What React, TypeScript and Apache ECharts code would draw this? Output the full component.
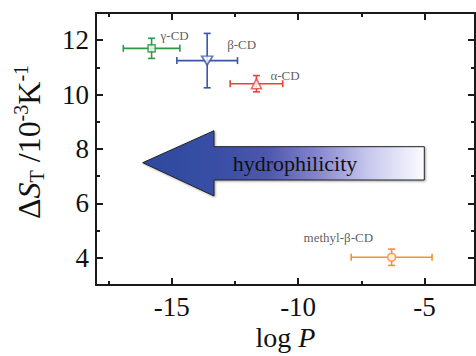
import React, { useEffect, useRef } from "react";
import * as echarts from "echarts";

const compounds = ["γ-CD", "β-CD", "α-CD", "methyl-β-CD"];
const logP = [-15.8, -13.6, -11.65, -6.3];
const deltaST = [11.7, 11.25, 10.4, 4.02];
const logPErr = [1.12, 1.2, 1.04, 1.6];
const deltaSTErr = [0.37, 1.0, 0.3, 0.3];

const xTickLabels = [-15, -10, -5];
const xMajorTicks = [-15, -10, -5];
const xMinorTicks = [-17.5, -12.5, -7.5];
const yTickLabels = [4, 6, 8, 10, 12];
const yMajorTicks = [4, 6, 8, 10, 12];
const yMinorTicks = [5, 7, 9, 11];

const SERIF = "'Liberation Serif', 'Times New Roman', serif";

export default function App() {
  const ref = useRef<HTMLDivElement>(null);
  useEffect(() => {
    if (!ref.current) return;
    const chart = echarts.init(ref.current, null, { renderer: "svg" });
    const colors = ["#2a9a45", "#3a56a8", "#e8433a", "#f5902e"];
    const symbols = ["rect", "path://M0,0L12,0L6,9Z", "triangle", "circle"];
    const symbolSizes: any[] = [7, [11, 9], [10, 10], 8];
    const labelOffsets = [
      [9, -13],
      [20, -16],
      [14, -8],
      [-88, -20],
    ];
    const axisColor = "#1a1a1a";
    const X_RANGE = { min: -18, max: -3 };
    const Y_RANGE = { min: 3, max: 13 };

    const tickAxis = (range: any, pos: string, values: number[], len: number) => ({
      type: "value",
      ...range,
      position: pos,
      gridIndex: 0,
      axisLine: { show: false, onZero: false },
      axisTick: { show: true, inside: true, length: len, customValues: values, lineStyle: { color: axisColor, width: 2 } },
      axisLabel: { show: false },
      splitLine: { show: false },
    });

    const xMain: any = {
      type: "value",
      ...X_RANGE,
      position: "bottom",
      gridIndex: 0,
      axisLine: { show: true, onZero: false, lineStyle: { color: axisColor, width: 2 } },
      axisTick: { show: false },
      axisLabel: { show: false },
      splitLine: { show: false },
      name: "{a|log }{i|P}",
      nameLocation: "middle",
      nameGap: 38,
      nameTextStyle: {
        fontFamily: SERIF,
        fontSize: 28,
        color: "#111",
        verticalAlign: "top",
        rich: {
          a: { fontFamily: SERIF, fontSize: 28, color: "#111" },
          i: { fontFamily: SERIF, fontSize: 28, fontStyle: "italic", color: "#111" },
        },
      },
    };
    const xTop: any = {
      type: "value",
      ...X_RANGE,
      position: "top",
      gridIndex: 0,
      axisLine: { show: true, onZero: false, lineStyle: { color: axisColor, width: 2 } },
      axisTick: { show: false },
      axisLabel: { show: false },
      splitLine: { show: false },
    };

    const yMain: any = {
      type: "value",
      ...Y_RANGE,
      position: "left",
      gridIndex: 0,
      axisLine: { show: true, onZero: false, lineStyle: { color: axisColor, width: 2 } },
      axisTick: { show: false },
      axisLabel: { show: false },
      splitLine: { show: false },
      name: "{sp|}{a|Δ}{i|S}{sub|T}{a| /10}{sup|-3}{a|K}{sup|-1}",
      nameLocation: "middle",
      nameRotate: 90,
      nameGap: 49,
      nameTextStyle: {
        fontFamily: SERIF,
        fontSize: 32,
        color: "#111",
        rich: {
          a: { fontFamily: SERIF, fontSize: 32, color: "#111", lineHeight: 36 },
          i: { fontFamily: SERIF, fontSize: 32, fontStyle: "italic", color: "#111", lineHeight: 36 },
          sub: { fontFamily: SERIF, fontSize: 20, color: "#111", verticalAlign: "bottom", lineHeight: 36 },
          sup: { fontFamily: SERIF, fontSize: 20, color: "#111", verticalAlign: "top", lineHeight: 36 },
          sp: { width: 14, lineHeight: 36 },
        },
      },
    };
    const yRight: any = {
      type: "value",
      ...Y_RANGE,
      position: "right",
      gridIndex: 0,
      axisLine: { show: true, onZero: false, lineStyle: { color: axisColor, width: 2 } },
      axisTick: { show: false },
      axisLabel: { show: false },
      splitLine: { show: false },
    };

    const errData = logP.map((x, i) => [x, deltaST[i], logPErr[i], deltaSTErr[i]]);

    const tickLabelText = (x: number, y: number, text: string, align: string) => ({
      type: "text",
      x,
      y,
      style: {
        text,
        fontFamily: SERIF,
        fontSize: 27,
        fill: "#111",
        align,
        verticalAlign: "middle",
      },
    });

    const option: any = {
      animation: false,
      backgroundColor: "#ffffff",
      textStyle: { fontFamily: SERIF },
      grid: { left: 96, right: 1, top: 13, bottom: 62, containLabel: false },
      xAxis: [
        xMain,
        xTop,
        tickAxis(X_RANGE, "bottom", xMajorTicks, 7),
        tickAxis(X_RANGE, "bottom", xMinorTicks, 4),
        tickAxis(X_RANGE, "top", xMajorTicks, 7),
        tickAxis(X_RANGE, "top", xMinorTicks, 4),
      ],
      yAxis: [
        yMain,
        yRight,
        tickAxis(Y_RANGE, "left", yMajorTicks, 7),
        tickAxis(Y_RANGE, "left", yMinorTicks, 4),
        tickAxis(Y_RANGE, "right", yMajorTicks, 7),
        tickAxis(Y_RANGE, "right", yMinorTicks, 4),
      ],
      series: [
        {
          type: "custom",
          name: "x tick labels",
          xAxisIndex: 0,
          yAxisIndex: 0,
          clip: false,
          silent: true,
          data: xTickLabels.map((v) => [v, Y_RANGE.min]),
          renderItem: (params: any, api: any) => {
            const p = api.coord([api.value(0), api.value(1)]);
            return tickLabelText(p[0], p[1] + 22, String(api.value(0)), "center");
          },
        },
        {
          type: "custom",
          name: "y tick labels",
          xAxisIndex: 0,
          yAxisIndex: 0,
          clip: false,
          silent: true,
          data: yTickLabels.map((v) => [X_RANGE.min, v]),
          renderItem: (params: any, api: any) => {
            const p = api.coord([api.value(0), api.value(1)]);
            return tickLabelText(p[0] - 7, p[1], String(api.value(1)), "right");
          },
        },
        {
          type: "custom",
          name: "error bars",
          xAxisIndex: 0,
          yAxisIndex: 0,
          z: 2,
          data: errData,
          renderItem: (params: any, api: any) => {
            const x = api.value(0);
            const y = api.value(1);
            const xe = api.value(2);
            const ye = api.value(3);
            const l = api.coord([x - xe, y]);
            const r = api.coord([x + xe, y]);
            const t = api.coord([x, y + ye]);
            const b = api.coord([x, y - ye]);
            const cap = 3.5;
            const st = { stroke: colors[params.dataIndex], lineWidth: 1.6 };
            return {
              type: "group",
              children: [
                { type: "line", shape: { x1: l[0], y1: l[1], x2: r[0], y2: r[1] }, style: st },
                { type: "line", shape: { x1: t[0], y1: t[1], x2: b[0], y2: b[1] }, style: st },
                { type: "line", shape: { x1: l[0], y1: l[1] - cap, x2: l[0], y2: l[1] + cap }, style: st },
                { type: "line", shape: { x1: r[0], y1: r[1] - cap, x2: r[0], y2: r[1] + cap }, style: st },
                { type: "line", shape: { x1: t[0] - cap, y1: t[1], x2: t[0] + cap, y2: t[1] }, style: st },
                { type: "line", shape: { x1: b[0] - cap, y1: b[1], x2: b[0] + cap, y2: b[1] }, style: st },
              ],
            };
          },
        },
        {
          type: "scatter",
          name: "ΔS_T",
          xAxisIndex: 0,
          yAxisIndex: 0,
          z: 5,
          data: logP.map((x, i) => ({
            name: compounds[i],
            value: [x, deltaST[i]],
            symbol: symbols[i],
            symbolSize: symbolSizes[i],
            itemStyle: { color: "#ffffff", borderColor: colors[i], borderWidth: 1.6 },
            label: {
              show: true,
              formatter: compounds[i],
              position: "inside",
              align: "left",
              verticalAlign: "middle",
              offset: labelOffsets[i],
              fontFamily: SERIF,
              fontSize: 13,
              color: "#333",
            },
          })),
        },
      ],
      graphic: [
        {
          type: "polygon",
          z: 10,
          shape: {
            points: [
              [142.7, 162.7],
              [214, 130.7],
              [214, 146.7],
              [424.3, 146.7],
              [424.3, 180],
              [214, 180],
              [214, 196],
            ],
          },
          style: {
            fill: {
              type: "linear",
              x: 0,
              y: 0,
              x2: 1,
              y2: 0,
              colorStops: [
                { offset: 0, color: "#2c4a9e" },
                { offset: 0.3, color: "#3b4fa6" },
                { offset: 0.45, color: "#4f58ae" },
                { offset: 0.62, color: "#8585cf" },
                { offset: 0.8, color: "#c7c7ee" },
                { offset: 1, color: "#fbfbff" },
              ],
            },
            stroke: "#222",
            lineWidth: 1,
            shadowBlur: 2,
            shadowOffsetX: 1,
            shadowOffsetY: 1,
            shadowColor: "rgba(0,0,0,0.35)",
          },
        },
        {
          type: "text",
          z: 11,
          x: 295,
          y: 163,
          style: {
            text: "hydrophilicity",
            fontFamily: SERIF,
            fontSize: 22,
            fill: "#111",
            align: "center",
            verticalAlign: "middle",
          },
        },
      ],
    };
    chart.setOption(option);
    return () => chart.dispose();
  }, []);
  return (
    <div
      ref={ref}
      style={{ position: "absolute", left: 0, top: 0, width: 476, height: 356, background: "#fff" }}
    />
  );
}
